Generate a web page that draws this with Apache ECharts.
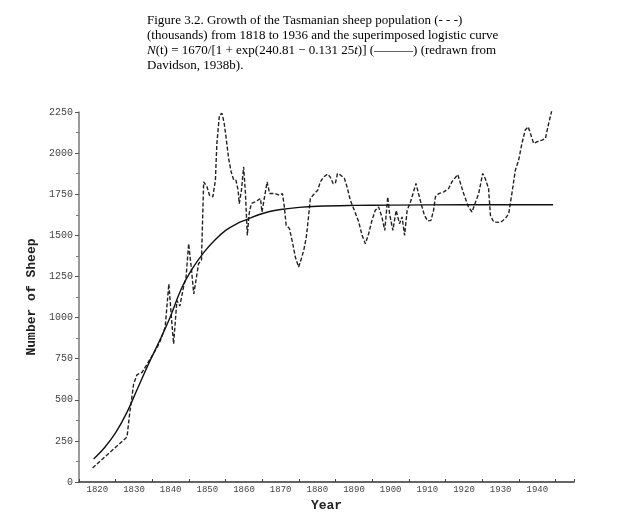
<!DOCTYPE html>
<html>
<head>
<meta charset="utf-8">
<script src="https://cdn.jsdelivr.net/npm/echarts@6/dist/echarts.min.js"></script>
<style>
html,body{margin:0;padding:0;background:#fff;}
#chart{width:633px;height:525px;}
</style>
</head>
<body>
<div id="chart"></div>
<script>
// Observed sheep population (thousands), x positions read against the printed year axis
var dataYears = [1818.7,1828.1,1828.8,1829.9,1830.8,1832.2,1833.6,1836.3,1837.2,1838.5,1839.5,1840.2,1840.8,1841.7,1842.5,1843.5,1844.2,1844.9,1845.6,1846.3,1846.9,1847.6,1848.4,1849.0,1849.9,1850.6,1851.5,1852.2,1852.6,1853.3,1854.0,1854.6,1855.2,1855.8,1856.5,1857.2,1857.8,1858.4,1858.7,1859.3,1859.9,1860.4,1860.9,1861.4,1862.0,1863.0,1864.5,1864.9,1865.4,1866.3,1867.0,1868.5,1869.7,1870.5,1871.0,1871.5,1872.4,1873.3,1874.0,1874.9,1875.5,1876.3,1877.0,1877.6,1878.1,1879.2,1880.1,1880.8,1881.7,1882.8,1883.5,1884.3,1884.9,1885.5,1886.4,1887.4,1888.1,1889.0,1889.9,1891.3,1892.2,1893.1,1894.0,1894.9,1895.8,1896.7,1897.6,1898.4,1899.2,1899.7,1900.6,1901.5,1902.4,1903.1,1903.8,1904.5,1905.4,1906.1,1906.9,1907.6,1908.3,1909.2,1910.1,1911.0,1911.7,1912.2,1913.1,1914.5,1915.8,1916.7,1918.3,1919.9,1921.2,1922.2,1923.1,1924.0,1925.1,1925.8,1926.7,1927.2,1928.1,1929.9,1931.3,1932.2,1933.1,1934.0,1934.9,1935.8,1936.7,1937.5,1938.1,1939.0,1939.9,1941.3,1942.2,1943.1,1944.3];
var dataValues = [85,274,413,596,652,667,718,819,860,941,1205,1002,840,1104,1070,1185,1246,1449,1307,1144,1226,1327,1350,1825,1795,1744,1734,1835,2058,2232,2242,2181,2079,1968,1886,1835,1835,1774,1693,1774,1916,1754,1500,1632,1693,1703,1724,1642,1632,1825,1754,1754,1744,1754,1673,1561,1541,1449,1368,1307,1348,1409,1490,1612,1724,1754,1774,1825,1855,1872,1855,1815,1815,1876,1866,1845,1795,1713,1663,1581,1500,1449,1510,1591,1652,1673,1612,1530,1734,1632,1530,1652,1571,1612,1500,1652,1703,1754,1815,1754,1693,1622,1587,1591,1652,1734,1754,1764,1785,1825,1870,1754,1673,1642,1700,1754,1876,1845,1785,1622,1581,1578,1602,1632,1760,1896,1957,2059,2140,2160,2120,2059,2069,2079,2089,2181,2293];
// Logistic curve as drawn
var curveYears = [1819,1822,1825,1828,1831,1834,1837,1840,1843,1846,1849,1852,1855,1858,1861,1864,1867,1870,1875,1880,1890,1900,1920,1944.3];
var curveValues = [140,210,300,420,570,720,860,1010,1180,1300,1395,1470,1530,1570,1598,1625,1645,1657,1670,1677,1682,1684,1686,1686];
var xLabelYears = [1820,1830,1840,1850,1860,1870,1880,1890,1900,1910,1920,1930,1940];

function pairs(xs, ys){ return xs.map(function(x,i){ return [x, ys[i]]; }); }

var chart = echarts.init(document.getElementById('chart'), null, {renderer:'canvas'});
var grid = {left:79, top:112, width:495, height:370};
chart.setOption({
  backgroundColor:'#ffffff',
  animation:false,
  title:{
    left:142, top:8,
    text:'Figure 3.2. Growth of the Tasmanian sheep population (- - -)\n(thousands) from 1818 to 1936 and the superimposed logistic curve\n{i|N}(t) = 1670/[1 + exp(240.81 \u2212 0.131 25{i|t})] (\u2014\u2014\u2014) (redrawn from\nDavidson, 1938b).',
    textStyle:{
      fontFamily:'Liberation Serif', fontSize:13, color:'#000', fontWeight:'normal', lineHeight:15,
      rich:{ i:{fontFamily:'Liberation Serif', fontStyle:'italic', fontSize:13, color:'#000', lineHeight:15} }
    }
  },
  grid:[grid],
  xAxis:[{
    type:'value', min:1815, max:1950, interval:5, gridIndex:0,
    name:'Year', nameLocation:'middle', nameGap:3,
    nameTextStyle:{fontFamily:'Liberation Mono', fontWeight:'bold', fontSize:13, color:'#222'},
    axisLine:{show:true, onZero:false, lineStyle:{color:'#333', width:1.5}},
    axisTick:{show:false},
    splitLine:{show:false},
    axisLabel:{
      fontFamily:'Liberation Mono', fontSize:9, color:'#444', margin:3,
      showMinLabel:true, showMaxLabel:true,
      formatter:function(v){ return xLabelYears.indexOf(Math.round(v))>=0 && Math.abs(v-Math.round(v))<1e-6 ? String(Math.round(v)) : ''; }
    }
  },{
    type:'value', min:1815, max:1950, interval:10, gridIndex:0, position:'bottom',
    axisLine:{show:false, onZero:false},
    axisTick:{show:true, inside:true, length:3, lineStyle:{color:'#444', width:1}},
    axisLabel:{show:false},
    splitLine:{show:false}
  }],
  yAxis:[{
    type:'value', min:0, max:2250, interval:250,
    name:'Number of Sheep', nameLocation:'middle', nameRotate:90, nameGap:30,
    nameTextStyle:{fontFamily:'Liberation Mono', fontWeight:'bold', fontSize:13, color:'#222'},
    axisLine:{show:true, lineStyle:{color:'#777', width:1.5}},
    axisTick:{show:true, length:4, lineStyle:{color:'#555'}},
    minorTick:{show:true, splitNumber:2, length:3, lineStyle:{color:'#777'}},
    splitLine:{show:false},
    axisLabel:{fontFamily:'Liberation Mono', fontSize:10, color:'#444', margin:6,
      formatter:function(v){ return String(v); }}
  }],
  series:[{
    type:'line', name:'observed', xAxisIndex:0, yAxisIndex:0,
    data:pairs(dataYears, dataValues),
    showSymbol:false, smooth:false,
    lineStyle:{color:'#222', width:1.4, type:[4,2]}
  },{
    type:'line', name:'logistic', xAxisIndex:0, yAxisIndex:0,
    data:pairs(curveYears, curveValues),
    showSymbol:false, smooth:0.4,
    lineStyle:{color:'#111', width:1.4, type:'solid'}
  }]
});
</script>
</body>
</html>
